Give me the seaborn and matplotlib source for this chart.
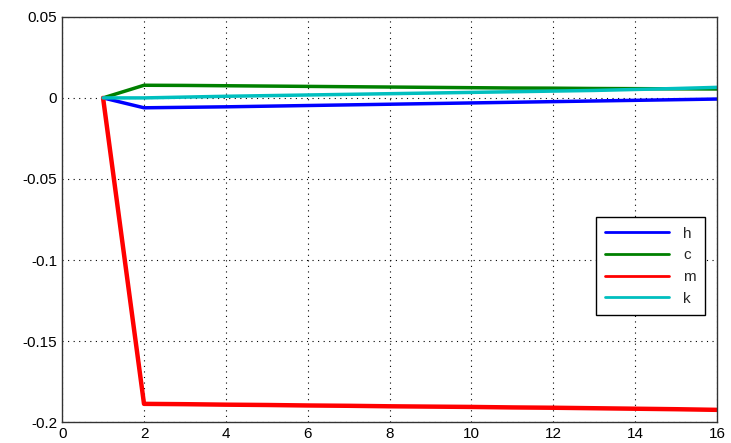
import numpy as np
import pandas as pd
import seaborn as sns
import matplotlib.pyplot as plt

steps = list(range(1, 17))
h = [0, -0.0061, -0.0058, -0.0055, -0.0051, -0.0047, -0.0043, -0.0039,
     -0.0035, -0.0031, -0.0027, -0.0023, -0.0019, -0.0015, -0.0011, -0.0007]
c = [0, 0.0078, 0.0077, 0.0075, 0.0073, 0.0071, 0.0069, 0.0067,
     0.0065, 0.0063, 0.0061, 0.0060, 0.0058, 0.0057, 0.0056, 0.0055]
m = [0, -0.1887, -0.1889, -0.1892, -0.1894, -0.1897, -0.1899, -0.1902,
     -0.1904, -0.1906, -0.1909, -0.1911, -0.1914, -0.1917, -0.1920, -0.1924]
k = [0, 0.0000, 0.0005, 0.0010, 0.0014, 0.0018, 0.0022, 0.0026,
     0.0030, 0.0034, 0.0038, 0.0042, 0.0046, 0.0052, 0.0058, 0.0065]

names = ["h", "c", "m", "k"]
colors = ["#0000ff", "#008000", "#ff0000", "#00bfbf"]

df = pd.DataFrame({"step": steps * 4,
                   "value": h + c + m + k,
                   "series": sum([[n] * len(steps) for n in names], [])})

sns.set_style("white")
plt.rcParams['font.family'] = ['Liberation Sans', 'DejaVu Sans']

fig = plt.figure(figsize=(7.31, 4.43), dpi=100)
ax = fig.add_axes([0.085, 0.047, 0.896, 0.915])

sns.lineplot(data=df, x="step", y="value", hue="series", hue_order=names,
             palette=colors, linewidth=2.5, ax=ax)
ax.lines[2].set_linewidth(3.2)

ax.set_xlim(0, 16)
ax.set_ylim(-0.2, 0.05)
ax.set_xticks(np.arange(0, 17, 2))
ax.set_yticks([-0.2, -0.15, -0.1, -0.05, 0, 0.05])
ax.set_yticklabels(["-0.2", "-0.15", "-0.1", "-0.05", "0", "0.05"])
ax.set_xlabel("")
ax.set_ylabel("")
ax.grid(True, linestyle=(0, (1, 4)), color="black", linewidth=0.8)
ax.tick_params(direction="in", length=5, labelsize=11, colors="black")
for s in ax.spines.values():
    s.set_color("#333333")
    s.set_linewidth(1.0)

leg = ax.legend(loc="center right", bbox_to_anchor=(0.993, 0.385),
                fancybox=False, framealpha=1, edgecolor="black",
                handlelength=4.2, fontsize=11, borderpad=0.6,
                labelspacing=0.5, handletextpad=0.9)
for line in leg.get_lines():
    line.set_linewidth(2)

fig.savefig("out.png", dpi=100)
